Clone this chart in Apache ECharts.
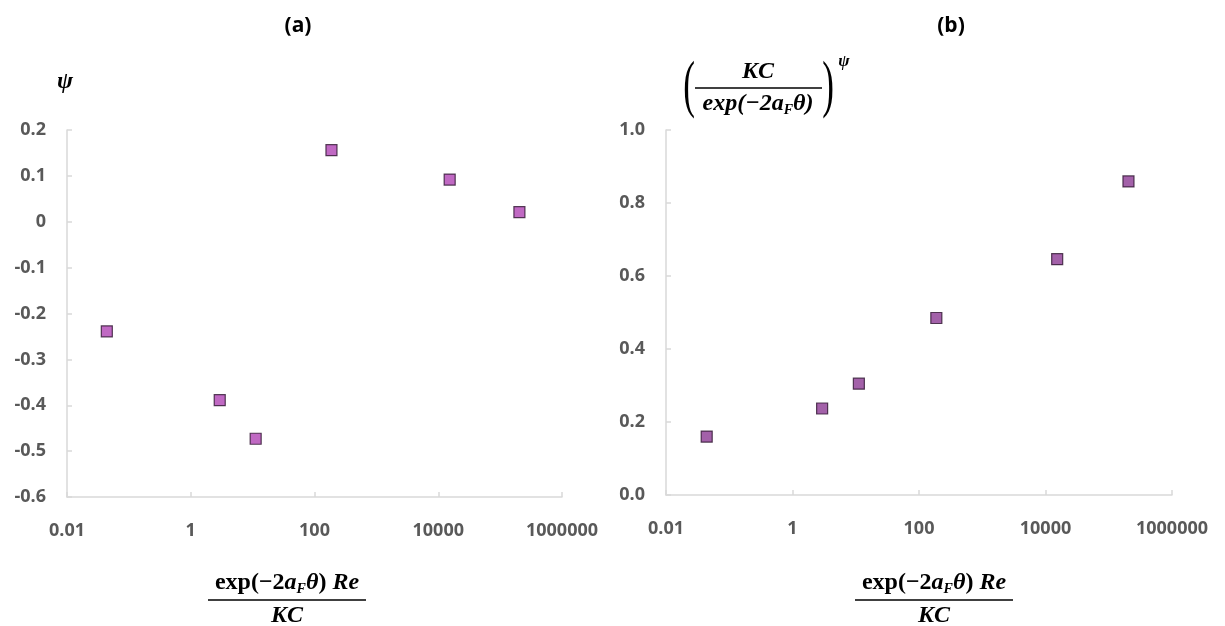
<!DOCTYPE html>
<html>
<head>
<meta charset="utf-8">
<script src="https://cdn.jsdelivr.net/npm/echarts@6/dist/echarts.min.js"></script>
<style>
html,body{margin:0;padding:0;background:#fff;}
#chart{width:1225px;height:626px;}
</style>
</head>
<body>
<div id="chart"></div>
<script>
// x values (shared by both panels)
const xValues = [0.044, 2.94, 11.2, 188, 15300, 205000];
// panel (a): psi
const psiValues = [-0.239, -0.389, -0.473, 0.156, 0.092, 0.021];
// panel (b): (KC/exp(-2aFθ))^psi
const ratioValues = [0.160, 0.237, 0.305, 0.485, 0.646, 0.859];
// tick labels
const xTickLabels = ['0.01', '1', '100', '10000', '1000000'];
const yTickLabelsA = ['-0.6', '-0.5', '-0.4', '-0.3', '-0.2', '-0.1', '0', '0.1', '0.2'];
const yTickLabelsB = ['0.0', '0.2', '0.4', '0.6', '0.8', '1.0'];
const panelTitles = ['(a)', '(b)'];

const chart = echarts.init(document.getElementById('chart'));

const labelFont = { fontFamily: 'Open Sans', fontWeight: 700, fontSize: 18, color: '#595959' };
const axisLineColor = '#d9d9d9';

function xAxisCfg(gi) {
  return {
    type: 'log', logBase: 10, gridIndex: gi, min: 0.01, max: 1000000, interval: 2,
    axisLine: { onZero: false, lineStyle: { color: axisLineColor, width: 1.5 } },
    axisTick: { show: true, inside: true, length: 5, lineStyle: { color: axisLineColor, width: 1.5 } },
    minorTick: { show: false },
    splitLine: { show: false },
    axisLabel: Object.assign({}, labelFont, {
      margin: 25,
      formatter: v => {
        const e = Math.round(Math.log10(v));
        return xTickLabels[(e + 2) / 2] !== undefined ? xTickLabels[(e + 2) / 2] : '';
      }
    })
  };
}

const mathFamily = 'Liberation Serif';
const richMath = {
  n: { fontFamily: mathFamily, fontWeight: 'bold', fontSize: 24, color: '#000' },
  i: { fontFamily: mathFamily, fontWeight: 'bold', fontStyle: 'italic', fontSize: 24, color: '#000' },
  s: { fontFamily: mathFamily, fontWeight: 'bold', fontStyle: 'italic', fontSize: 14, color: '#000', padding: [12, 0, 0, 0] }
};

function bottomLabel(cx) {
  return [
    { type: 'text', x: cx, y: 583, style: { text: '{n|exp(−2}{i|a}{s|F}{i|θ}{n|) }{i|Re}', rich: richMath, align: 'center', verticalAlign: 'middle' } },
    { type: 'line', shape: { x1: cx - 79, y1: 600, x2: cx + 79, y2: 600 }, style: { stroke: '#000', lineWidth: 1.5 } },
    { type: 'text', x: cx, y: 616, style: { text: '{i|KC}', rich: richMath, align: 'center', verticalAlign: 'middle' } }
  ];
}

const option = {
  backgroundColor: '#fff',
  animation: false,
  grid: [
    { left: 67, top: 130, width: 495, height: 367 },
    { left: 666, top: 130, width: 506, height: 365 }
  ],
  xAxis: [xAxisCfg(0), xAxisCfg(1)],
  yAxis: [
    {
      type: 'value', gridIndex: 0, min: -0.6, max: 0.2, interval: 0.1,
      axisLine: { show: true, onZero: false, lineStyle: { color: axisLineColor, width: 1.5 } },
      axisTick: { show: true, inside: true, length: 5, lineStyle: { color: axisLineColor, width: 1.5 } },
      splitLine: { show: false },
      axisLabel: Object.assign({}, labelFont, {
        margin: 21,
        formatter: v => yTickLabelsA[Math.round((v + 0.6) * 10)]
      })
    },
    {
      type: 'value', gridIndex: 1, min: 0, max: 1, interval: 0.2,
      axisLine: { show: true, onZero: false, lineStyle: { color: axisLineColor, width: 1.5 } },
      axisTick: { show: true, inside: true, length: 5, lineStyle: { color: axisLineColor, width: 1.5 } },
      splitLine: { show: false },
      axisLabel: Object.assign({}, labelFont, {
        margin: 21,
        formatter: v => yTickLabelsB[Math.round(v * 5)]
      })
    }
  ],
  series: [
    {
      type: 'scatter', xAxisIndex: 0, yAxisIndex: 0, symbol: 'rect', symbolSize: 11,
      itemStyle: { color: '#B044B4', borderColor: '#2E1430', borderWidth: 1.2 },
      data: xValues.map((x, i) => [x, psiValues[i]])
    },
    {
      type: 'scatter', xAxisIndex: 1, yAxisIndex: 1, symbol: 'rect', symbolSize: 11,
      itemStyle: { color: '#8C3A94', borderColor: '#2E1430', borderWidth: 1.2 },
      data: xValues.map((x, i) => [x, ratioValues[i]])
    }
  ],
  graphic: [
    { type: 'text', x: 298, y: 26, style: { text: panelTitles[0], fontFamily: 'Open Sans', fontWeight: 700, fontSize: 21, fill: '#000', align: 'center', verticalAlign: 'middle' } },
    { type: 'text', x: 951, y: 26, style: { text: panelTitles[1], fontFamily: 'Open Sans', fontWeight: 700, fontSize: 21, fill: '#000', align: 'center', verticalAlign: 'middle' } },
    { type: 'text', x: 65, y: 82, style: { text: 'ψ', fontFamily: mathFamily, fontWeight: 'bold', fontStyle: 'italic', fontSize: 24, fill: '#000', align: 'center', verticalAlign: 'middle' } },
    // right y-axis name
    { type: 'text', x: 689, y: 88, scaleX: 0.55, style: { text: '(', fontFamily: mathFamily, fontSize: 64, fill: '#000', align: 'center', verticalAlign: 'middle' } },
    { type: 'text', x: 828, y: 88, scaleX: 0.55, style: { text: ')', fontFamily: mathFamily, fontSize: 64, fill: '#000', align: 'center', verticalAlign: 'middle' } },
    { type: 'text', x: 758, y: 72, style: { text: '{i|KC}', rich: richMath, align: 'center', verticalAlign: 'middle' } },
    { type: 'line', shape: { x1: 695, y1: 88, x2: 822, y2: 88 }, style: { stroke: '#000', lineWidth: 1.5 } },
    { type: 'text', x: 758, y: 104, style: { text: '{i|exp(−2a}{s|F}{i|θ)}', rich: richMath, align: 'center', verticalAlign: 'middle' } },
    { type: 'text', x: 844, y: 62, style: { text: 'ψ', fontFamily: mathFamily, fontWeight: 'bold', fontStyle: 'italic', fontSize: 17, fill: '#000', align: 'center', verticalAlign: 'middle' } }
  ].concat(bottomLabel(287), bottomLabel(934))
};

chart.setOption(option);
</script>
</body>
</html>
